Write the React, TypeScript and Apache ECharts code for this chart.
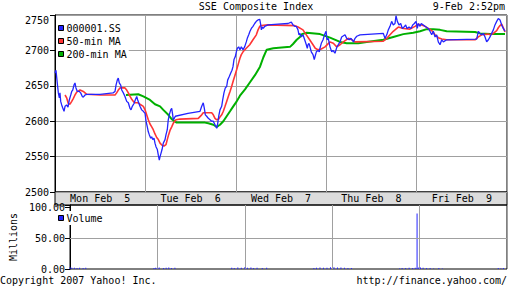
import React, { useEffect, useRef } from 'react';
import * as echarts from 'echarts';

const FONT = '"DejaVu Sans Mono", "Liberation Mono", monospace';

const dayLabels = ['Mon Feb  5', 'Tue Feb  6', 'Wed Feb  7', 'Thu Feb  8', 'Fri Feb  9'];
const seriesNames = ['000001.SS', '50-min MA', '200-min MA'];

// [time in trading days since Mon open, index level]
const indexData: [number, number][] = [
  [0.000, 2668], [0.011, 2672], [0.025, 2654], [0.037, 2640], [0.048, 2633], [0.055, 2640], [0.063, 2628],
  [0.074, 2623], [0.085, 2619], [0.100, 2614], [0.111, 2621], [0.129, 2623], [0.144, 2620], [0.158, 2630],
  [0.174, 2637], [0.185, 2642], [0.196, 2644], [0.210, 2651], [0.221, 2654], [0.232, 2647], [0.247, 2642],
  [0.269, 2642], [0.284, 2640], [0.302, 2635], [0.313, 2634], [0.332, 2637], [0.351, 2638], [0.498, 2638],
  [0.642, 2640], [0.664, 2642], [0.675, 2651], [0.689, 2658], [0.700, 2661], [0.711, 2654], [0.727, 2651],
  [0.738, 2644], [0.756, 2640], [0.774, 2635], [0.793, 2628], [0.811, 2626], [0.830, 2618], [0.841, 2616],
  [0.855, 2621], [0.874, 2625], [0.888, 2630], [0.904, 2635], [0.915, 2630], [0.929, 2625], [0.940, 2621],
  [0.959, 2616], [0.977, 2614], [0.996, 2611],
  [1.007, 2600], [1.021, 2592], [1.032, 2585], [1.043, 2581], [1.059, 2576], [1.070, 2578], [1.081, 2574],
  [1.095, 2576], [1.106, 2569], [1.117, 2564], [1.132, 2560], [1.143, 2552], [1.154, 2545], [1.162, 2550],
  [1.173, 2555], [1.184, 2560], [1.198, 2569], [1.217, 2574], [1.228, 2581], [1.242, 2588], [1.253, 2602],
  [1.264, 2609], [1.280, 2616], [1.291, 2618], [1.302, 2609], [1.308, 2602], [1.319, 2604], [1.331, 2607],
  [1.471, 2611], [1.604, 2614], [1.623, 2621], [1.640, 2626], [1.652, 2618], [1.663, 2609], [1.678, 2607],
  [1.696, 2604], [1.715, 2602], [1.733, 2600], [1.751, 2600], [1.770, 2595], [1.789, 2590], [1.800, 2597],
  [1.811, 2607], [1.825, 2616], [1.844, 2621], [1.855, 2630], [1.869, 2640], [1.884, 2647], [1.899, 2649],
  [1.910, 2658], [1.928, 2663], [1.944, 2668], [1.958, 2672], [1.969, 2677], [1.980, 2687], [1.994, 2691],
  [2.006, 2698], [2.017, 2703], [2.032, 2705], [2.046, 2701], [2.061, 2705], [2.080, 2701], [2.098, 2705],
  [2.116, 2712], [2.127, 2717], [2.143, 2722], [2.157, 2727], [2.172, 2731], [2.190, 2734], [2.209, 2738],
  [2.227, 2741], [2.246, 2743], [2.265, 2744], [2.276, 2736], [2.283, 2729], [2.294, 2733], [2.304, 2731],
  [2.320, 2734], [2.356, 2736], [2.467, 2737], [2.578, 2738], [2.614, 2740], [2.633, 2736], [2.652, 2734],
  [2.669, 2734], [2.688, 2729], [2.699, 2722], [2.710, 2724], [2.725, 2719], [2.743, 2722], [2.762, 2715],
  [2.780, 2708], [2.791, 2703], [2.799, 2708], [2.810, 2710], [2.821, 2705], [2.835, 2698], [2.854, 2694],
  [2.868, 2687], [2.876, 2691], [2.891, 2698], [2.909, 2700], [2.924, 2698], [2.931, 2703], [2.946, 2710],
  [2.965, 2715], [2.987, 2724], [2.998, 2727],
  [3.009, 2715], [3.023, 2717], [3.042, 2705], [3.061, 2698], [3.075, 2700], [3.097, 2696], [3.119, 2705],
  [3.133, 2708], [3.153, 2712], [3.171, 2719], [3.208, 2722], [3.227, 2717], [3.255, 2715], [3.274, 2717],
  [3.302, 2712], [3.319, 2717], [3.338, 2720], [3.374, 2722], [3.632, 2724], [3.650, 2717], [3.670, 2722],
  [3.687, 2729], [3.706, 2734], [3.724, 2741], [3.742, 2736], [3.761, 2738], [3.772, 2749], [3.787, 2741],
  [3.805, 2736], [3.824, 2738], [3.842, 2731], [3.861, 2733], [3.879, 2736], [3.894, 2731], [3.916, 2733],
  [3.938, 2731], [3.957, 2736], [3.975, 2738], [3.994, 2741],
  [4.008, 2731], [4.019, 2738], [4.038, 2734], [4.052, 2738], [4.074, 2736], [4.093, 2734], [4.129, 2731],
  [4.148, 2727], [4.167, 2722], [4.185, 2727], [4.204, 2719], [4.222, 2722], [4.240, 2712], [4.259, 2708],
  [4.278, 2715], [4.296, 2712], [4.333, 2715], [4.665, 2716], [4.683, 2727], [4.701, 2724], [4.720, 2722],
  [4.738, 2724], [4.757, 2719], [4.775, 2712], [4.794, 2715], [4.812, 2719], [4.830, 2724], [4.849, 2729],
  [4.867, 2736], [4.886, 2741], [4.904, 2745], [4.923, 2743], [4.941, 2736], [4.959, 2731], [4.978, 2727],
];

const ma50Data: [number, number][] = [
  [0.111, 2637], [0.129, 2633], [0.147, 2625], [0.166, 2624], [0.185, 2628], [0.202, 2632], [0.221, 2637],
  [0.240, 2641], [0.277, 2644], [0.295, 2643], [0.313, 2642], [0.332, 2640], [0.351, 2638], [0.498, 2637],
  [0.664, 2637], [0.682, 2640], [0.700, 2644], [0.719, 2647], [0.774, 2647], [0.793, 2644], [0.811, 2640],
  [0.830, 2635], [0.849, 2631], [0.866, 2628], [0.885, 2626], [0.918, 2626], [0.940, 2624], [0.977, 2621],
  [0.996, 2616], [1.014, 2609], [1.032, 2602], [1.051, 2596], [1.070, 2592], [1.087, 2588], [1.106, 2582],
  [1.125, 2577], [1.143, 2574], [1.162, 2569], [1.184, 2566], [1.206, 2565], [1.228, 2567], [1.242, 2574],
  [1.257, 2581], [1.272, 2587], [1.291, 2592], [1.308, 2597], [1.338, 2602], [1.383, 2603], [1.585, 2604],
  [1.623, 2609], [1.640, 2612], [1.733, 2612], [1.751, 2609], [1.770, 2604], [1.789, 2602], [1.811, 2603],
  [1.825, 2606], [1.844, 2609], [1.862, 2614], [1.881, 2621], [1.899, 2628], [1.917, 2635], [1.936, 2642],
  [1.954, 2649], [1.972, 2657], [1.991, 2665], [2.010, 2673], [2.028, 2681], [2.046, 2689], [2.061, 2694],
  [2.080, 2698], [2.116, 2703], [2.154, 2708], [2.190, 2715], [2.227, 2722], [2.246, 2729], [2.265, 2734],
  [2.282, 2735], [2.356, 2736], [2.652, 2735], [2.688, 2733], [2.743, 2729], [2.780, 2722], [2.817, 2715],
  [2.854, 2708], [2.879, 2703], [2.909, 2701], [2.946, 2702], [2.987, 2705], [3.042, 2712], [3.079, 2710],
  [3.116, 2705], [3.153, 2708], [3.190, 2712], [3.245, 2717], [3.283, 2715], [3.319, 2712], [3.632, 2713],
  [3.670, 2717], [3.706, 2722], [3.742, 2727], [3.761, 2729], [3.798, 2733], [3.853, 2731], [3.927, 2730],
  [3.982, 2734], [4.019, 2737], [4.056, 2736], [4.093, 2734], [4.129, 2731], [4.167, 2728], [4.204, 2722],
  [4.240, 2718], [4.278, 2716], [4.333, 2715], [4.646, 2715], [4.683, 2719], [4.720, 2722], [4.794, 2723],
  [4.812, 2722], [4.849, 2724], [4.886, 2728], [4.904, 2732], [4.923, 2735], [4.941, 2737], [4.959, 2732],
  [4.978, 2726],
];

const ma200Data: [number, number][] = [
  [0.785, 2637], [0.921, 2638], [0.977, 2635], [1.051, 2630], [1.106, 2624], [1.162, 2621], [1.198, 2616],
  [1.253, 2609], [1.291, 2603], [1.346, 2598], [1.659, 2598], [1.696, 2597], [1.751, 2595], [1.789, 2592],
  [1.825, 2595], [1.862, 2600], [1.899, 2607], [1.936, 2614], [1.972, 2621], [2.010, 2628], [2.046, 2636],
  [2.102, 2645], [2.157, 2655], [2.212, 2665], [2.268, 2677], [2.304, 2690], [2.342, 2701], [2.415, 2703],
  [2.600, 2705], [2.633, 2709], [2.674, 2715], [2.710, 2719], [2.732, 2723], [2.784, 2725], [2.931, 2723],
  [3.042, 2718], [3.153, 2712], [3.227, 2710], [3.355, 2710], [3.448, 2712], [3.632, 2715], [3.742, 2719],
  [3.853, 2723], [3.963, 2725], [4.038, 2727], [4.112, 2730], [4.185, 2730], [4.259, 2729], [4.333, 2727],
  [4.646, 2726], [4.701, 2724], [4.812, 2723], [4.978, 2723],
];

// [time, volume in millions]
const volumeData: [number, number][] = [
  [0.00, 3], [0.02, 2], [0.05, 2], [0.08, 1.5], [0.11, 2], [0.15, 1.5], [0.18, 2],
  [0.96, 1.5], [0.98, 2], [1.00, 1], [1.02, 2.5], [1.07, 1.5], [1.10, 2], [1.13, 2.5], [1.16, 1.5], [1.20, 2],
  [1.85, 2], [1.88, 1.5], [1.92, 2.5], [1.96, 2], [2.00, 3], [2.03, 2], [2.07, 2.5], [2.10, 1.5], [2.14, 2],
  [2.20, 1.5], [2.25, 2],
  [2.79, 1.5], [2.82, 2], [2.86, 2.5], [2.90, 2], [2.94, 2], [2.98, 3], [3.02, 3], [3.06, 2.5], [3.10, 2.5],
  [3.14, 2], [3.18, 1.5], [3.22, 1.5],
  [3.77, 1], [3.80, 1.5], [3.84, 1.5], [3.88, 2], [3.92, 1.5], [3.95, 2], [3.971, 90], [3.99, 2.5],
  [4.01, 2.5], [4.04, 2], [4.08, 1.5], [4.12, 1.5], [4.16, 1], [4.22, 1.5], [4.26, 1],
  [4.90, 1.5], [4.93, 1], [4.96, 1.5],
];

const priceMin = 2500;
const priceMax = 2750;
const priceStep = 50;
const volMax = 104;
const volStep = 50;
const volGridValues = [50];
const dayMin = 0;
const dayMax = 5;

const BLUE = '#2323ff';
const RED = '#ff3535';
const GREEN = '#00b000';
const GRIDC = '#a0a0a0';

const txt = { fontFamily: FONT, fontSize: 10, color: '#000' };

export default function App() {
  const ref = useRef<HTMLDivElement>(null);
  useEffect(() => {
    const chart = echarts.init(ref.current!, null, { renderer: 'svg' });
    const baseGraphic: any[] = [
      { type: 'rect', z: -1, shape: { x: 55, y: 192, width: 452, height: 13 },
        style: { fill: '#dcdcdc', stroke: '#000', lineWidth: 1 } },
      { type: 'text', x: 0, y: 280,
        style: { text: 'Copyright 2007 Yahoo! Inc.', font: '10px ' + FONT, fill: '#000',
          align: 'left', verticalAlign: 'middle' } },
      { type: 'text', x: 507, y: 280,
        style: { text: 'http://finance.yahoo.com/', font: '10px ' + FONT, fill: '#000',
          align: 'right', verticalAlign: 'middle' } },
    ];
    const option: any = {
      animation: false,
      backgroundColor: '#fff',
      textStyle: { fontFamily: FONT },
      title: [
        { text: 'SSE Composite Index', left: 'center', top: 1, padding: 0,
          textStyle: { ...txt, fontWeight: 'normal' } },
        { text: '9-Feb 2:52pm', right: 7, top: 1, padding: 0,
          textStyle: { ...txt, fontWeight: 'normal' } },
      ],
      legend: [
        {
          data: seriesNames, orient: 'vertical', left: 56, top: 20, padding: 2,
          backgroundColor: '#fff', itemWidth: 5, itemHeight: 5, itemGap: 1, icon: 'rect',
          itemStyle: { borderColor: '#000', borderWidth: 1 },
          textStyle: { ...txt, lineHeight: 12, padding: [0, 0, 0, -2] },
          selectedMode: false,
        },
        {
          data: ['Volume'], orient: 'vertical', left: 56, top: 211, padding: [1, 2, 1, 2],
          backgroundColor: '#fff', itemWidth: 5, itemHeight: 5, icon: 'rect',
          itemStyle: { borderColor: '#000', borderWidth: 1 },
          textStyle: { ...txt, lineHeight: 12, padding: [0, 0, 0, -2] },
          selectedMode: false,
        },
      ],
      grid: [
        { left: 55, top: 15, width: 452, height: 177, show: true, borderColor: '#000', borderWidth: 1 },
        { left: 55, top: 205, width: 452, height: 64, show: true, borderColor: '#000', borderWidth: 1 },
      ],
      xAxis: [
        { type: 'value', gridIndex: 0, min: dayMin, max: dayMax, interval: 1,
          axisLabel: { show: false }, axisTick: { show: false }, axisLine: { show: false },
          splitLine: { show: true, lineStyle: { color: GRIDC, width: 1 } } },
        { type: 'category', gridIndex: 0, data: dayLabels, position: 'bottom', boundaryGap: true,
          axisLabel: { ...txt, margin: 1 }, axisTick: { show: false }, axisLine: { show: false },
          splitLine: { show: false } },
        { type: 'value', gridIndex: 1, min: dayMin, max: dayMax, interval: 1,
          axisLabel: { show: false }, axisTick: { show: false }, axisLine: { show: false },
          splitLine: { show: true, lineStyle: { color: GRIDC, width: 1 } } },
      ],
      yAxis: [
        { type: 'value', gridIndex: 0, min: priceMin, max: priceMax, interval: priceStep,
          axisLine: { show: true, lineStyle: { color: '#000' } },
          axisTick: { show: true, length: 5, lineStyle: { color: '#000' } },
          axisLabel: { ...txt, margin: 6, verticalAlignMaxLabel: 'top',
            formatter: (v: number) => String(v) },
          splitLine: { show: true, lineStyle: { color: GRIDC, width: 1 } } },
        { type: 'value', gridIndex: 1, min: 0, max: volMax, interval: volStep,
          name: 'Millions', nameLocation: 'middle', nameRotate: 90, nameGap: 44,
          nameTextStyle: { ...txt },
          axisLine: { show: true, lineStyle: { color: '#000' } },
          axisTick: { show: true, length: 5, lineStyle: { color: '#000' } },
          axisLabel: { ...txt, margin: 5,
            formatter: (v: number) => (v % volStep === 0 ? v.toFixed(2) : '') },
          splitLine: { show: false } },
      ],
      graphic: baseGraphic,
      series: [
        { name: '200-min MA', type: 'line', xAxisIndex: 0, yAxisIndex: 0, data: ma200Data,
          showSymbol: false, color: GREEN, lineStyle: { color: GREEN, width: 2 } },
        { name: '50-min MA', type: 'line', xAxisIndex: 0, yAxisIndex: 0, data: ma50Data,
          showSymbol: false, color: RED, lineStyle: { color: RED, width: 1.6 } },
        { name: '000001.SS', type: 'line', xAxisIndex: 0, yAxisIndex: 0, data: indexData,
          showSymbol: false, color: BLUE, lineStyle: { color: BLUE, width: 1.3 } },
        { name: 'Volume', type: 'bar', xAxisIndex: 2, yAxisIndex: 1, data: volumeData,
          barWidth: 1, color: BLUE, itemStyle: { color: BLUE } },
      ],
    };
    chart.setOption(option);

    // volume pane horizontal gridline(s), positioned through the chart's own scales
    const x1 = chart.convertToPixel({ xAxisIndex: 2 }, dayMin) as number;
    const x2 = chart.convertToPixel({ xAxisIndex: 2 }, dayMax) as number;
    const gridLines = volGridValues.map((v) => {
      const y = Math.round(chart.convertToPixel({ yAxisIndex: 1 }, v) as number) + 0.5;
      return { type: 'line', z: 50, silent: true,
        shape: { x1, y1: y, x2, y2: y }, style: { stroke: GRIDC, lineWidth: 1 } };
    });
    chart.setOption({ graphic: [...baseGraphic, ...gridLines] });

    return () => chart.dispose();
  }, []);
  return <div ref={ref} style={{ position: 'absolute', left: 0, top: 0, width: 512, height: 288 }} />;
}
